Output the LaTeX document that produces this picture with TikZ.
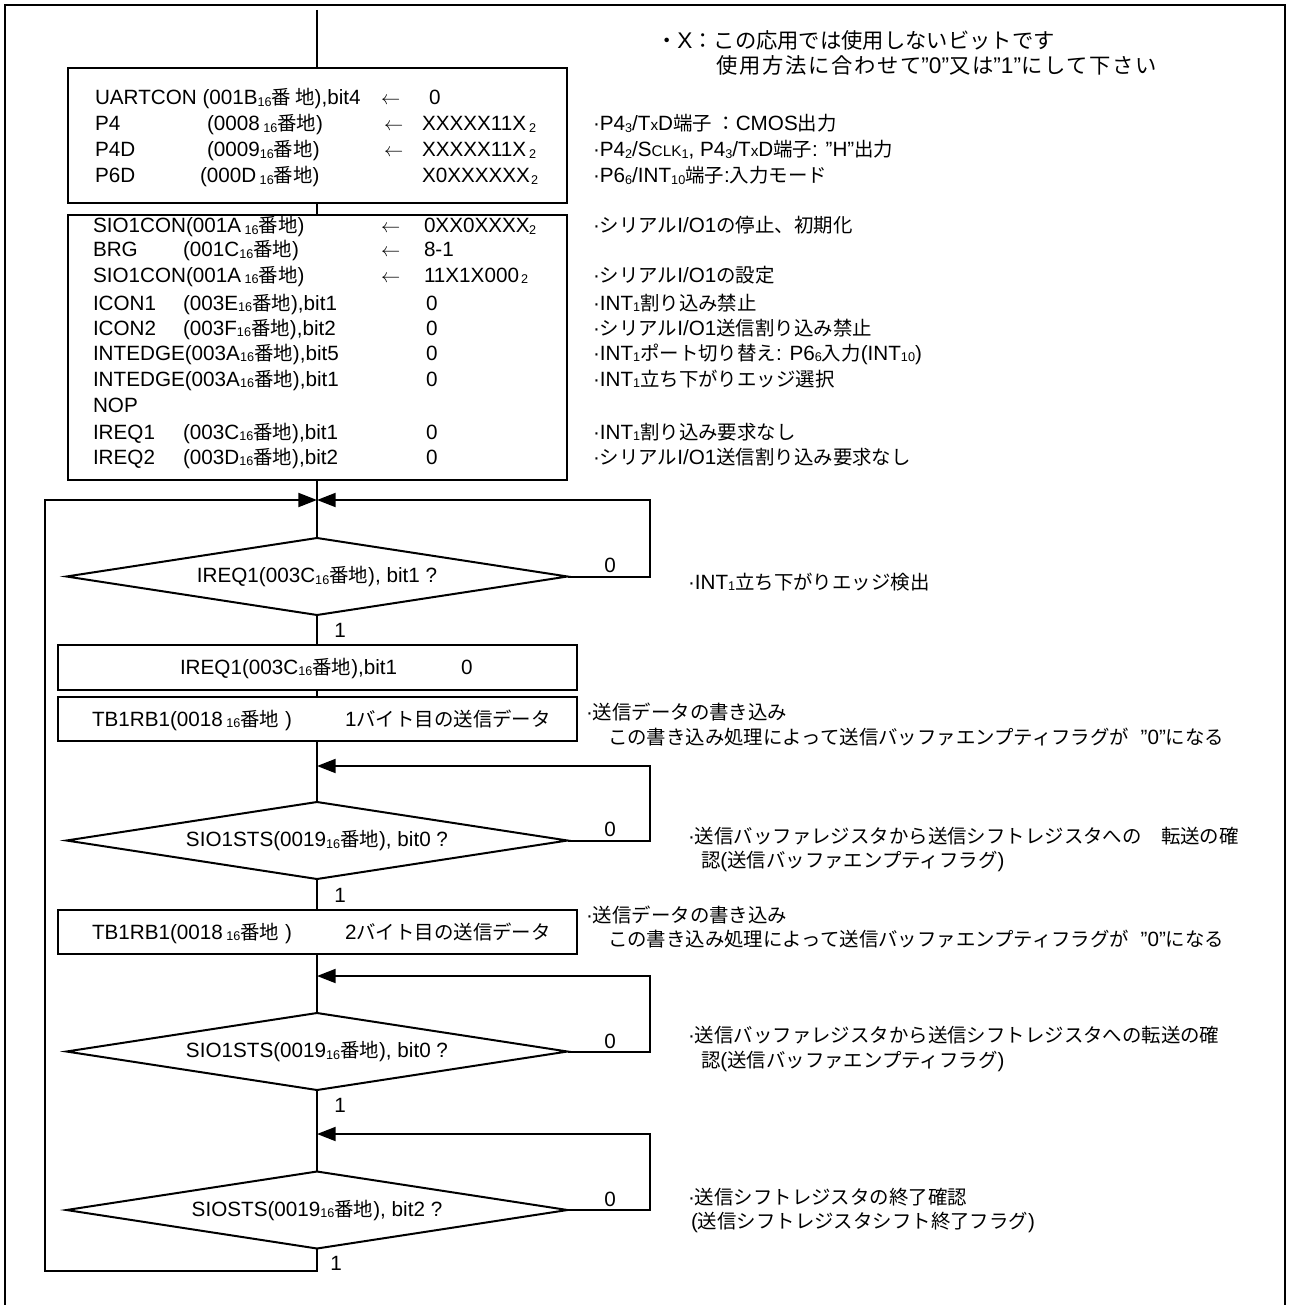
\documentclass[tikz,border=0pt]{standalone}
\usepackage{fontspec}
\setmainfont{Liberation Sans}
\newfontfamily\jpf[Scale=0.94]{Noto Sans CJK JP}
\newfontfamily\jpw[Scale=0.94,LetterSpace=8]{Noto Sans CJK JP}
\usetikzlibrary{arrows.meta}
\newcommand\jp[1]{{\jpf #1}}
\newcommand\la[1]{{\rmfamily #1}}
\newcommand\sx[1]{\raisebox{-1.2pt}{\fontsize{9.5pt}{10pt}\selectfont #1}}
\newcommand\smc[1]{{\fontsize{11.5pt}{12pt}\selectfont #1}}
\begin{document}
\begin{tikzpicture}[x=0.75pt,y=-0.75pt,line width=1.5pt,
  txt/.style={anchor=base west,inner sep=0pt,font=\fontsize{15.5}{18}\selectfont},
  ann/.style={anchor=base west,inner sep=0pt,font=\fontsize{15.5}{18}\selectfont\jpf},
  note/.style={anchor=base west,inner sep=0pt,font=\fontsize{17}{20}\selectfont\jpf},
  notew/.style={anchor=base west,inner sep=0pt,font=\fontsize{17}{20}\selectfont\jpw},
  lbl/.style={inner sep=0pt,font=\fontsize{15.5}{18}\selectfont},
  box/.style={draw,rectangle,inner sep=0pt,line width=1.5pt},
  dia/.style={rectangle,inner sep=0pt,minimum width=499*0.75pt,minimum height=75*0.75pt,font=\fontsize{15.5}{18}\selectfont},
  arr/.style={-{Triangle[length=14pt,width=10.5pt]}}]
\useasboundingbox (0,0) rectangle (1289,1305);
% frame
\draw[line width=1.6pt] (5,1310) -- (5,5) -- (1285,5) -- (1285,1310);

% ---- flow nodes
\coordinate (top) at (317,10);
\node[box,minimum width=499*0.75pt,minimum height=135*0.75pt] (b1) at (317,135.5) {};
\node[box,minimum width=499*0.75pt,minimum height=265*0.75pt] (b2) at (317,347.5) {};
\coordinate (j1) at (317,500);
\node[dia] (d1) at (317,576.5) {IREQ1(003C\sx{16}\jp{番地}), bit1 ?};
\node[box,minimum width=519*0.75pt,minimum height=45*0.75pt] (b3) at (317,667.5) {};
\node[box,minimum width=519*0.75pt,minimum height=44*0.75pt] (b4) at (317,719) {};
\coordinate (j2) at (317,766);
\node[dia] (d2) at (317,840.5) {SIO1STS(0019\sx{16}\jp{番地}), bit0 ?};
\node[box,minimum width=519*0.75pt,minimum height=44*0.75pt] (b5) at (317,932) {};
\coordinate (j3) at (317,976);
\node[dia] (d3) at (317,1051.5) {SIO1STS(0019\sx{16}\jp{番地}), bit0 ?};
\coordinate (j4) at (317,1134);
\node[dia] (d4) at (317,1210) {SIOSTS(0019\sx{16}\jp{番地}), bit2 ?};
\coordinate (lb) at (45,1271);
\coordinate (r1) at (650,500);
\coordinate (r2) at (650,766);
\coordinate (r3) at (650,976);
\coordinate (r4) at (650,1134);

% diamond outlines
\foreach \d in {d1,d2,d3,d4}
  \draw (\d.west) -- (\d.north) -- (\d.east) -- (\d.south) -- cycle;

% ---- connectors
\draw (top) -- (b1.north);
\draw (b1.south) -- (b2.north);
\draw (b2.south) -- (d1.north);
\draw (d1.south) -- (b3.north);
\draw (b3.south) -- (b4.north);
\draw (b4.south) -- (d2.north);
\draw (d2.south) -- (b5.north);
\draw (b5.south) -- (d3.north);
\draw (d3.south) -- (d4.north);
\draw[arr] (d4.south) |- (lb) |- (j1);
\draw[arr] (d1.east) -| (r1) -- (j1);
\draw[arr] (d2.east) -| (r2) -- (j2);
\draw[arr] (d3.east) -| (r3) -- (j3);
\draw[arr] (d4.east) -| (r4) -- (j4);

% branch labels
\node[lbl] (z1) at (610,565) {0};
\node[lbl] (z2) at (610,829) {0};
\node[lbl] (z3) at (610,1041) {0};
\node[lbl] (z4) at (610,1199) {0};
\node[lbl] (o1) at (340,630) {1};
\node[lbl] (o2) at (340,895) {1};
\node[lbl] (o3) at (340,1105) {1};
\node[lbl] (o4) at (336,1263) {1};

% ---- box 1 text
\node[txt] (u1) at (94,105) {UARTCON (001B\sx{16}\jp{番\hspace{3pt}地}),bit4};
\node[txt] (u2) at (380,105) {$\leftarrow$};
\node[txt] (u3) at (428,105) {0};
\node[txt] (p1) at (94,131) {P4};
\node[txt] (p2) at (206,131) {(0008\,\sx{16}\jp{番地})};
\node[txt] (p3) at (383,131) {$\leftarrow$};
\node[txt] (p4) at (421,131) {XXXXX11X};
\node[txt] (p5) at (528,131) {\sx{2}};
\node[txt] (q1) at (94,157) {P4D};
\node[txt] (q2) at (206,157) {(0009\sx{16}\jp{番地})};
\node[txt] (q3) at (383,157) {$\leftarrow$};
\node[txt] (q4) at (421,157) {XXXXX11X};
\node[txt] (q5) at (528,157) {\sx{2}};
\node[txt] (s1) at (94,183) {P6D};
\node[txt] (s2) at (199,183) {(000D\,\sx{16}\jp{番地})};
\node[txt] (s4) at (421,183) {X0XXXXXX};
\node[txt] (s5) at (530,183) {\sx{2}};

% ---- box 2 text
\node[txt] (c1) at (92,233) {SIO1CON(001A\,\sx{16}\jp{番地})};
\node[txt] (c1a) at (380,233) {$\leftarrow$};
\node[txt] (c1b) at (423,233) {0XX0XXXX};
\node[txt] (c1c) at (528,233) {\sx{2}};
\node[txt] (c2) at (92,257) {BRG};
\node[txt] (c2x) at (182,257) {(001C\sx{16}\jp{番地})};
\node[txt] (c2a) at (380,257) {$\leftarrow$};
\node[txt] (c2b) at (423,257) {8-1};
\node[txt] (c3) at (92,282) {SIO1CON(001A\,\sx{16}\jp{番地})};
\node[txt] (c3a) at (380,282) {$\leftarrow$};
\node[txt] (c3b) at (423,282) {11X1X000};
\node[txt] (c3c) at (520,282) {\sx{2}};
\node[txt] (c4) at (92,310) {ICON1};
\node[txt] (c4x) at (182,310) {(003E\sx{16}\jp{番地}),bit1};
\node[txt] (c4b) at (425,310) {0};
\node[txt] (c5) at (92,335) {ICON2};
\node[txt] (c5x) at (182,335) {(003F\sx{16}\jp{番地}),bit2};
\node[txt] (c5b) at (425,335) {0};
\node[txt] (c6) at (92,360) {INTEDGE(003A\sx{16}\jp{番地}),bit5};
\node[txt] (c6b) at (425,360) {0};
\node[txt] (c7) at (92,386) {INTEDGE(003A\sx{16}\jp{番地}),bit1};
\node[txt] (c7b) at (425,386) {0};
\node[txt] (c8) at (92,412) {NOP};
\node[txt] (c9) at (92,439) {IREQ1};
\node[txt] (c9x) at (182,439) {(003C\sx{16}\jp{番地}),bit1};
\node[txt] (c9b) at (425,439) {0};
\node[txt] (c10) at (92,464) {IREQ2};
\node[txt] (c10x) at (182,464) {(003D\sx{16}\jp{番地}),bit2};
\node[txt] (c10b) at (425,464) {0};

% ---- boxes 3-5 text
\node[txt] (e1) at (179,674) {IREQ1(003C\sx{16}\jp{番地}),bit1};
\node[txt] (e2) at (460,674) {0};
\node[txt] (f1) at (91,726) {TB1RB1(0018\,\sx{16}\jp{番地} )};
\node[txt] (f2) at (344,726) {1\jp{バイト目の送信データ}};
\node[txt] (g1) at (91,939) {TB1RB1(0018\,\sx{16}\jp{番地} )};
\node[txt] (g2) at (344,939) {2\jp{バイト目の送信データ}};

% ---- annotations
\node[note] (n1) at (655,49) {・\la{X}：この応用では使用しないビットです};
\node[notew] (n2) at (715,74) {使用方法に合わせて\la{"0"}又は\la{"1"}にして下さい};
\node[ann] (n3) at (592,131) {\la{·P4\sx{3}/T\smc{x}D}端子 ：\la{CMOS}出力};
\node[ann] (n4) at (592,157) {\la{·P4\sx{2}/S\smc{CLK}\sx{1}, P4\sx{3}/T\smc{x}D}端子\la{: "H"}出力};
\node[ann] (n5) at (592,183) {\la{·P6\sx{6}/INT\sx{10}}端子\la{:}入力モード};
\node[ann] (n6) at (592,233) {\la{·}シリアル\la{I/O1}の停止、初期化};
\node[ann] (n7) at (592,282) {\la{·}シリアル\la{I/O1}の設定};
\node[ann] (n8) at (592,310) {\la{·INT\sx{1}}割り込み禁止};
\node[ann] (n9) at (592,335) {\la{·}シリアル\la{I/O1}送信割り込み禁止};
\node[ann] (n10) at (592,360) {\la{·INT\sx{1}}ポート切り替え\la{: P6\sx{6}}入力\la{(INT\sx{10})}};
\node[ann] (n11) at (592,386) {\la{·INT\sx{1}}立ち下がりエッジ選択};
\node[ann] (n12) at (592,439) {\la{·INT\sx{1}}割り込み要求なし};
\node[ann] (n13) at (592,464) {\la{·}シリアル\la{I/O1}送信割り込み要求なし};
\node[ann] (n14) at (687,589) {\la{·INT\sx{1}}立ち下がりエッジ検出};
\node[ann] (n15) at (585,719) {\la{·}送信データの書き込み};
\node[ann] (n16) at (607,744) {この書き込み処理によって送信バッファエンプティフラグが\la{\ \ "0"}になる};
\node[ann] (n17) at (687,843) {\la{·}送信バッファレジスタから送信シフトレジスタへの\quad 転送の確};
\node[ann] (n18) at (700,867) {認\la{(}送信バッファエンプティフラグ\la{)}};
\node[ann] (n19) at (585,922) {\la{·}送信データの書き込み};
\node[ann] (n20) at (607,946) {この書き込み処理によって送信バッファエンプティフラグが\la{\ \ "0"}になる};
\node[ann] (n21) at (687,1042) {\la{·}送信バッファレジスタから送信シフトレジスタへの転送の確};
\node[ann] (n22) at (700,1067) {認\la{(}送信バッファエンプティフラグ\la{)}};
\node[ann] (n23) at (687,1204) {\la{·}送信シフトレジスタの終了確認};
\node[ann] (n24) at (690,1228) {\la{(}送信シフトレジスタシフト終了フラグ\la{)}};
\end{tikzpicture}
\end{document}
